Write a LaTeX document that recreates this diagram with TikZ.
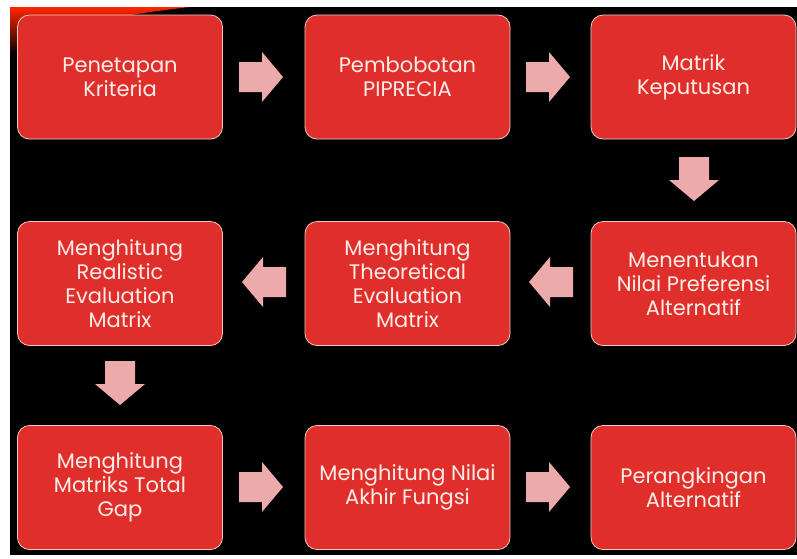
\documentclass[tikz,border=0pt]{standalone}
\usepackage{fontspec}
\setmainfont{Poppins}
\definecolor{boxred}{HTML}{E02F2A}
\definecolor{boxline}{HTML}{F2C9C2}
\definecolor{arrowpink}{HTML}{ECABAA}
\definecolor{txt}{HTML}{FFEDEA}
\newcommand\rarr[2]{\fill[arrowpink] (#1-22,#2-15) -- (#1+1,#2-15) -- (#1+1,#2-25) -- (#1+22,#2) -- (#1+1,#2+25) -- (#1+1,#2+15) -- (#1-22,#2+15) -- cycle;}
\newcommand\larr[2]{\fill[arrowpink] (#1+22,#2-15) -- (#1-1,#2-15) -- (#1-1,#2-25) -- (#1-22,#2) -- (#1-1,#2+25) -- (#1-1,#2+15) -- (#1+22,#2+15) -- cycle;}
\newcommand\darr[2]{\fill[arrowpink] (#1-15,#2-22) -- (#1-15,#2+1) -- (#1-25,#2+1) -- (#1,#2+22) -- (#1+25,#2+1) -- (#1+15,#2+1) -- (#1+15,#2-22) -- cycle;}
\begin{document}
\begin{tikzpicture}[x=1pt,y=-1pt,
  stepbox/.style={draw=boxline, line width=0.8pt, fill=boxred, rounded corners=12pt,
    minimum width=205pt, minimum height=124pt, align=center, text=txt,
    font=\fontsize{21}{24}\selectfont, inner sep=2pt}]
\useasboundingbox (0,0) rectangle (797,558);
\fill[white] (0,0) rectangle (797,558);
\fill[black] (10,7) rectangle (797,555);
\shade[left color=red!70!orange, right color=black, shading angle=0]
  (10,7) -- (190,7) .. controls (110,16) and (40,30) .. (10,55) -- cycle;
\node[stepbox] (n1) at (120,77) {Penetapan\\Kriteria};
\node[stepbox] (n2) at (407.5,77) {Pembobotan\\PIPRECIA};
\node[stepbox] (n3) at (693.5,77) {Matrik\\Keputusan};
\node[stepbox] (n4) at (693.5,283.5) {Menentukan\\Nilai Preferensi\\Alternatif};
\node[stepbox] (n5) at (407.5,283.5) {Menghitung\\Theoretical\\Evaluation\\Matrix};
\node[stepbox] (n6) at (120,283.5) {Menghitung\\Realistic\\Evaluation\\Matrix};
\node[stepbox] (n7) at (120,487.5) {Menghitung\\Matriks Total\\Gap};
\node[stepbox] (n8) at (407.5,487.5) {Menghitung Nilai\\Akhir Fungsi};
\node[stepbox] (n9) at (693.5,487.5) {Perangkingan\\Alternatif};
\rarr{261}{77}
\rarr{548}{77}
\darr{694}{179}
\larr{551}{282}
\larr{264}{282}
\darr{120}{383}
\rarr{261}{487}
\rarr{548}{487}
\end{tikzpicture}
\end{document}
